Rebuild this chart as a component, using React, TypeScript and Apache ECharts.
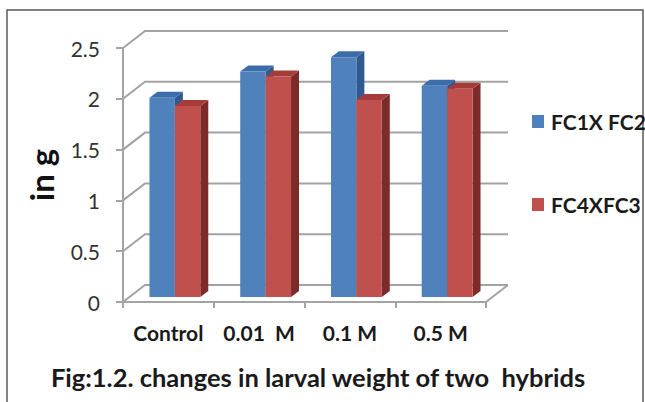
import React, { useEffect, useRef } from 'react';
import * as echarts from 'echarts';

const categories = ['Control', '0.01  M', '0.1 M', '0.5 M'];
const fc1xfc2 = [1.96, 2.22, 2.36, 2.08];
const fc4xfc3 = [1.88, 2.17, 1.94, 2.05];
const yTicks = [0, 0.5, 1, 1.5, 2, 2.5];
const seriesNames = ['FC1X FC2', 'FC4XFC3'];
const yAxisName = 'in g';
const titleText = 'Fig:1.2. changes in larval weight of two  hybrids';

const FONT = 'Lato, "Open Sans", "Noto Sans", sans-serif';
const GRID_COLOR = '#a3a3a3';
const WALL_DX = 22;
const WALL_DY = -17;
const BAR_SHIFT_X = 6.5;
const BAR_SHIFT_Y = -5;
const BAR_DX = 8;
const BAR_DY = -6;
const BAR_FRAC = 0.28;

const BLUE = { front: '#4f81bd', side: '#2f5a91', top: '#3d6cab' };
const RED = { front: '#c0504d', side: '#7d2b29', top: '#a63c39' };

function barRenderer(slot: number, c: { front: string; side: string; top: string }) {
  return (params: any, api: any) => {
    const idx = api.value(0);
    const val = api.value(1);
    const p = api.coord([idx, val]);
    const b = api.coord([idx, 0]);
    const band = api.size([1, 0])[0];
    const w = band * BAR_FRAC;
    const x0 = p[0] + slot * w + BAR_SHIFT_X;
    const x1 = x0 + w;
    const yT = p[1] + BAR_SHIFT_Y;
    const yB = b[1] + BAR_SHIFT_Y;
    return {
      type: 'group',
      children: [
        {
          type: 'polygon',
          shape: { points: [[x1, yT], [x1 + BAR_DX, yT + BAR_DY], [x1 + BAR_DX, yB + BAR_DY], [x1, yB]] },
          style: { fill: c.side },
        },
        {
          type: 'polygon',
          shape: { points: [[x0, yT], [x0 + BAR_DX, yT + BAR_DY], [x1 + BAR_DX, yT + BAR_DY], [x1, yT]] },
          style: { fill: c.top },
        },
        {
          type: 'rect',
          shape: { x: x0, y: yT, width: w, height: yB - yT },
          style: { fill: c.front },
        },
      ],
    };
  };
}

function wallRenderer(params: any, api: any) {
  const v = api.value(1);
  const cs = params.coordSys;
  const L = cs.x;
  const R = cs.x + cs.width;
  const y = api.coord([0, v])[1];
  const children: any[] = [
    {
      type: 'polyline',
      shape: { points: [[L, y], [L + WALL_DX, y + WALL_DY], [R + WALL_DX, y + WALL_DY]] },
      style: { stroke: GRID_COLOR, lineWidth: 2, fill: 'none' },
    },
  ];
  if (v === 0) {
    children.push({
      type: 'line',
      shape: { x1: R, y1: y, x2: R + WALL_DX, y2: y + WALL_DY },
      style: { stroke: GRID_COLOR, lineWidth: 2 },
    });
  }
  return { type: 'group', children };
}

export default function App() {
  const ref = useRef<HTMLDivElement>(null);
  useEffect(() => {
    document.body.style.margin = '0';
    const chart = echarts.init(ref.current!, null, { renderer: 'svg' });
    const option: any = {
      animation: false,
      backgroundColor: '#ffffff',
      color: [BLUE.front, RED.front],
      grid: { left: 123, top: 48, width: 363, height: 254 },
      legend: {
        orient: 'vertical',
        left: 527,
        top: 106,
        itemWidth: 12,
        itemHeight: 13,
        itemGap: 62,
        icon: 'rect',
        data: seriesNames,
        textStyle: { fontFamily: FONT, fontSize: 21, fontWeight: 'bold', color: '#1a1a1a', padding: [0, 0, 0, 2] },
      },
      xAxis: {
        type: 'category',
        data: categories,
        boundaryGap: true,
        axisLine: { lineStyle: { color: GRID_COLOR, width: 2 } },
        axisTick: { show: true, length: 6, lineStyle: { color: GRID_COLOR, width: 2 } },
        axisLabel: { interval: 0, margin: 20, fontFamily: FONT, fontSize: 21, fontWeight: 'bold', color: '#1a1a1a' },
        splitLine: { show: false },
      },
      yAxis: {
        type: 'value',
        min: 0,
        max: 2.5,
        interval: 0.5,
        name: yAxisName,
        nameLocation: 'middle',
        nameRotate: 90,
        nameGap: 66,
        nameTextStyle: { fontFamily: FONT, fontSize: 33, fontWeight: 'bold', color: '#111' },
        axisLine: { show: true, lineStyle: { color: GRID_COLOR, width: 2 } },
        axisTick: { show: true, length: 7, lineStyle: { color: GRID_COLOR, width: 2 } },
        axisLabel: { margin: 23, fontFamily: FONT, fontSize: 21, color: '#333' },
        splitLine: { show: false },
      },
      graphic: [
        {
          type: 'rect',
          shape: { x: 7, y: 10, width: 636, height: 400 },
          style: { fill: 'none', stroke: '#5a5a5a', lineWidth: 1.5 },
          silent: true,
        },
        {
          type: 'text',
          x: 318,
          y: 377,
          style: {
            text: titleText,
            fontFamily: FONT,
            fontSize: 25.5,
            fontWeight: 'bold',
            fill: '#1a1a1a',
            textAlign: 'center',
            textVerticalAlign: 'middle',
          },
        },
      ],
      series: [
        {
          type: 'custom',
          name: 'walls',
          silent: true,
          z: 1,
          renderItem: wallRenderer,
          data: yTicks.map((v) => [0, v]),
          encode: { x: 0, y: 1 },
        },
        {
          type: 'custom',
          name: seriesNames[0],
          z: 2,
          itemStyle: { color: BLUE.front },
          renderItem: barRenderer(-1, BLUE),
          data: fc1xfc2.map((v, i) => [i, v]),
          encode: { x: 0, y: 1 },
        },
        {
          type: 'custom',
          name: seriesNames[1],
          z: 3,
          itemStyle: { color: RED.front },
          renderItem: barRenderer(0, RED),
          data: fc4xfc3.map((v, i) => [i, v]),
          encode: { x: 0, y: 1 },
        },
      ],
    };
    chart.setOption(option);
    return () => chart.dispose();
  }, []);
  return (
    <div
      ref={ref}
      style={{ position: 'absolute', left: 0, top: 0, width: 645, height: 402, background: '#fff' }}
    />
  );
}
